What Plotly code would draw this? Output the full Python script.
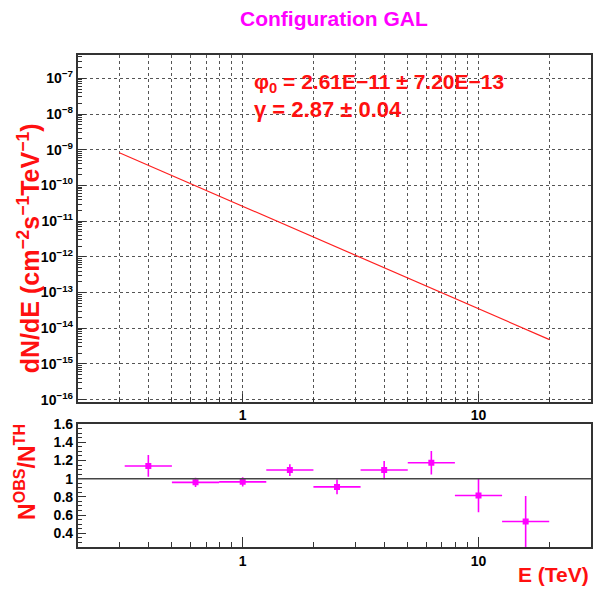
import numpy as np
import plotly.graph_objects as go

# ---- data ----
phi0 = 2.61e-11
phi0_err = 7.20e-13
gamma = 2.87
gamma_err = 0.04
fit_E = [0.3, 20.0]                     # fit range (TeV)

bin_low = [0.316, 0.501, 0.794, 1.259, 1.995, 3.162, 5.012, 7.943, 12.59]
bin_high = [0.501, 0.794, 1.259, 1.995, 3.162, 5.012, 7.943, 12.59, 19.95]
E_center = [0.398, 0.631, 1.0, 1.585, 2.512, 3.981, 6.310, 10.0, 15.85]
ratio = [1.14, 0.96, 0.965, 1.095, 0.91, 1.095, 1.175, 0.815, 0.53]
ratio_err = [0.12, 0.05, 0.05, 0.065, 0.08, 0.10, 0.13, 0.185, 0.28]

y_decades = list(range(-16, -6))
ratio_ticks = [0.4, 0.6, 0.8, 1.0, 1.2, 1.4, 1.6]
ratio_ticktext = ["0.4", "0.6", "0.8", "1", "1.2", "1.4", "1.6"]
x_major = [1, 10]
x_minor = [0.3, 0.4, 0.5, 0.6, 0.7, 0.8, 0.9, 2, 3, 4, 5, 6, 7, 8, 9, 20]

# ---- figure ----
W, H = 593, 603
fit_flux = [phi0 * e ** (-gamma) for e in fit_E]

fig = go.Figure()
fig.add_trace(go.Scatter(x=fit_E, y=fit_flux, mode="lines",
                         line=dict(color="#ff2020", width=1.2),
                         xaxis="x", yaxis="y", showlegend=False))

ex_plus = [h - c for h, c in zip(bin_high, E_center)]
ex_minus = [c - l for c, l in zip(E_center, bin_low)]
fig.add_trace(go.Scatter(x=E_center, y=ratio, mode="markers",
                         marker=dict(symbol="square", size=6, color="#ff00ff"),
                         error_x=dict(type="data", array=ex_plus, arrayminus=ex_minus,
                                      symmetric=False, color="#ff00ff", thickness=1.6, width=0),
                         error_y=dict(type="data", array=ratio_err, color="#ff00ff",
                                      thickness=1.6, width=0),
                         xaxis="x2", yaxis="y2", showlegend=False, cliponaxis=True))

xdom = [78 / W, 592 / W]
xrange_ = [np.log10(0.2), np.log10(30)]
tickfont = dict(family="Liberation Sans, Arial", size=14, color="black", weight="bold")
framecol = "#333333"
gridcol = "#555555"

minor_y = [m * 10.0 ** d for d in range(-17, -6) for m in range(2, 10)]

fig.update_layout(
    width=W, height=H, autosize=False,
    margin=dict(l=0, r=0, t=0, b=0),
    paper_bgcolor="white", plot_bgcolor="white",
    showlegend=False,
    xaxis=dict(domain=xdom, anchor="y", type="log", range=xrange_,
               tickvals=x_major, ticktext=["1", "10"], ticks="inside", ticklen=8,
               tickcolor=framecol, tickfont=tickfont,
               showgrid=True, gridcolor=gridcol, griddash="dot", gridwidth=1,
               minor=dict(tickvals=x_minor, ticks="inside", ticklen=4, tickcolor=framecol,
                          showgrid=True, gridcolor=gridcol, griddash="dot", gridwidth=1),
               showline=True, linecolor=framecol, linewidth=2, mirror=True, zeroline=False),
    yaxis=dict(domain=[1 - 403 / H, 1 - 48 / H], anchor="x", type="log",
               range=[-16.055, -6.344],
               tickvals=[10.0 ** d for d in y_decades],
               ticktext=["10<sup>\u2212%d</sup>" % (-d) for d in y_decades],
               ticks="inside", ticklen=8, tickcolor=framecol, tickfont=tickfont,
               showgrid=True, gridcolor=gridcol, griddash="dot", gridwidth=1,
               minor=dict(tickvals=minor_y, ticks="inside", ticklen=4, tickcolor=framecol,
                          showgrid=False),
               showline=True, linecolor=framecol, linewidth=2, mirror=True, zeroline=False),
    xaxis2=dict(domain=xdom, anchor="y2", type="log", range=xrange_,
                tickvals=x_major, ticktext=["1", "10"], ticks="inside", ticklen=10,
                tickcolor=framecol, tickfont=tickfont, showgrid=False,
                minor=dict(tickvals=x_minor, ticks="inside", ticklen=5, tickcolor=framecol,
                           showgrid=False),
                showline=True, linecolor=framecol, linewidth=2, mirror=True, zeroline=False),
    yaxis2=dict(domain=[1 - 552 / H, 1 - 426 / H], anchor="x2", range=[0.247, 1.6],
                tickvals=ratio_ticks, ticktext=ratio_ticktext,
                ticks="inside", ticklen=8, tickcolor=framecol, tickfont=tickfont,
                showgrid=False,
                minor=dict(dtick=0.05, ticks="inside", ticklen=4, tickcolor=framecol),
                showline=True, linecolor=framecol, linewidth=2, mirror=True, zeroline=False),
)

fig.add_shape(type="line", xref="x2 domain", yref="y2", x0=0, x1=1, y0=1, y1=1,
              line=dict(color="#444444", width=1.5))

red = "#ff1010"
fam = "Liberation Sans, Arial"
fig.add_annotation(text="Configuration GAL", xref="paper", yref="paper",
                   x=335 / W, y=1 - 11 / H, showarrow=False, xanchor="center", yanchor="middle",
                   font=dict(family=fam, size=21, color="#ff00ff", weight="bold"))
fig.add_annotation(text="\u03c6<sub>0</sub> = 2.61E\u221211 \u00b1 7.20E\u221213",
                   xref="paper", yref="paper", x=252 / W, y=1 - 77 / H,
                   showarrow=False, xanchor="left", yanchor="middle",
                   font=dict(family=fam, size=21, color=red, weight="bold"))
fig.add_annotation(text="\u03b3 = 2.87 \u00b1 0.04",
                   xref="paper", yref="paper", x=252 / W, y=1 - 104 / H,
                   showarrow=False, xanchor="left", yanchor="middle",
                   font=dict(family=fam, size=22, color=red, weight="bold"))
fig.add_annotation(text="dN/dE (cm<sup>\u22122</sup>s<sup>\u22121</sup>TeV<sup>\u22121</sup>)",
                   xref="paper", yref="paper", x=29 / W, y=1 - 246 / H, textangle=-90,
                   showarrow=False, xanchor="center", yanchor="middle",
                   font=dict(family=fam, size=25, color=red, weight="bold"))
fig.add_annotation(text="N<sup>OBS</sup>/N<sup>TH</sup>",
                   xref="paper", yref="paper", x=25 / W, y=1 - 475 / H, textangle=-90,
                   showarrow=False, xanchor="center", yanchor="middle",
                   font=dict(family=fam, size=23, color=red, weight="bold"))
fig.add_annotation(text="E (TeV)", xref="paper", yref="paper", x=592 / W, y=1 - 580 / H,
                   showarrow=False, xanchor="right", yanchor="middle",
                   font=dict(family=fam, size=21, color=red, weight="bold"))

fig.write_html("out.html", config={"displayModeBar": False},
               post_script="document.body.style.margin='0';document.body.style.overflow='hidden';")
